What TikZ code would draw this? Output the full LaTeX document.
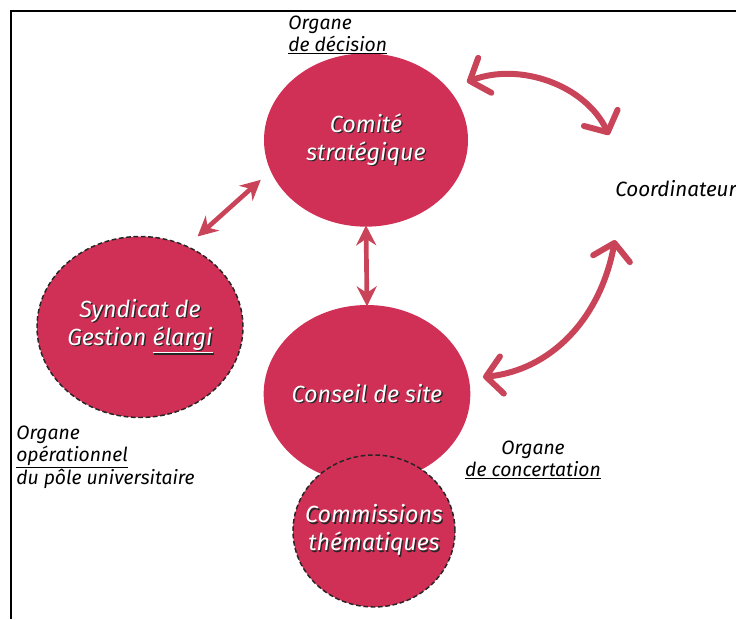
\documentclass[tikz,border=0pt]{standalone}
\usepackage{fontspec}
\setmainfont{Fira Sans}
\usetikzlibrary{shapes.geometric,arrows.meta}
\definecolor{bubble red}{RGB}{208,47,86}
\definecolor{link red}{RGB}{201,68,89}
\colorlet{bubble area}{bubble red}
\colorlet{bubble edge}{black!85}
\newcommand{\shtext}[1]{\makebox[0pt][l]{\hspace{1pt}\raisebox{-1pt}{\textcolor{black!85}{#1}}}#1}
\newcommand{\ulthick}[1]{\leavevmode\vtop{\hbox{#1}\kern1.2pt\hrule height 0.9pt}}
\tikzset{bubble/.style={ellipse, fill=bubble area, inner xsep=-45pt, inner ysep=-20pt, outer sep=0pt,
		text=white, align=center, font=\itshape\fontsize{17.5}{21}\selectfont},
	dashedbubble/.style={bubble, draw=bubble edge, dash pattern=on 3.5pt off 2pt, line width=1.1pt},
	tag/.style={inner sep=0pt, font=\itshape\fontsize{14.5}{16}\selectfont},
	link/.style={draw=link red, line width=3.5pt, >={Stealth[length=15pt,width=15pt]}, <->},
	bendlink/.style={draw=link red, line width=4.5pt, line cap=round,
		>={Straight Barb[length=12pt,width=28pt,line cap=round,line join=round]}, <->}}

\begin{document}
\begin{tikzpicture}[x=0.75pt,y=-0.75pt]
	\useasboundingbox (0,0) rectangle (736,619);
	\draw[line width=1.6pt] (736,11) -- (11,11) -- (11,619);
	
	\node[bubble, minimum width=153pt, minimum height=130pt] (comite) at (366,140)
		{\shtext{Comité}\\\shtext{stratégique}};
	\node[dashedbubble, minimum width=154.5pt, minimum height=135.75pt] (syndicat) at (140,327)
		{\shtext{Syndicat de}\\\shtext{Gestion \ulthick{élargi}}};
	\node[bubble, minimum width=155pt, minimum height=133.5pt] (conseil) at (367,394)
		{\shtext{Conseil de site}};
	\node[dashedbubble, minimum width=121.5pt, minimum height=114pt] (commissions) at (374,531)
		{\shtext{Commissions}\\\shtext{thématiques}};
	
	\node[tag, anchor=north west, align=left] (decision) at (288,16) {Organe\\\ulthick{de décision}};
	\node[tag, anchor=north west, align=left] (operationnel) at (16,426)
		{Organe\\\ulthick{opérationnel}\\du pôle universitaire};
	\node[tag, anchor=north, align=center] (concertation) at (533,441) {Organe\\\ulthick{de concertation}};
	\node[tag, anchor=base west, font=\itshape\fontsize{15.5}{16}\selectfont] (coord) at (615,196) {Coordinateur};
	
	\coordinate (coord top) at (609,135);
	\coordinate (coord bottom) at (615,240);
	\coordinate (comite end) at (467,82);
	\coordinate (conseil end) at (483,377);
	
	\draw[link, shorten <=11pt, shorten >=10pt] (syndicat.60) -- (comite.198);
	\draw[link, shorten <=-1pt, shorten >=-1pt] (comite.south) -- (conseil.north);
	\draw[bendlink] (comite end) .. controls (520,62) and (585,85) .. (coord top);
	\draw[bendlink] (coord bottom) .. controls (600,320) and (550,370) .. (conseil end);
\end{tikzpicture}
\end{document}
